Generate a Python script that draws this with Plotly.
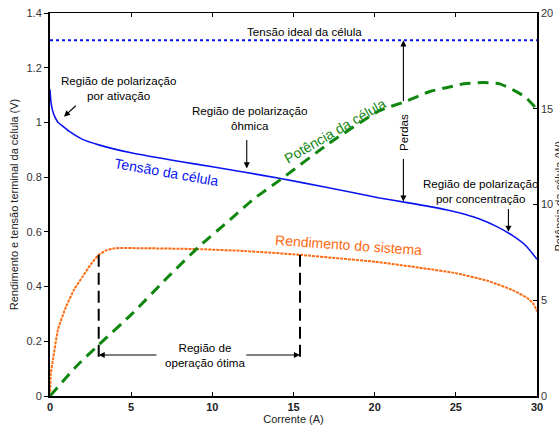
import numpy as np
import plotly.graph_objects as go

# ---------------- data ----------------
I_volt = [0, 0.05, 0.15, 0.3, 0.5, 0.8, 1.2, 2.0, 3.0, 5.0, 8.0, 10.0, 12.0, 14.2, 17.0,
          20.3, 22.0, 24.4, 25.5, 26.5, 27.5, 28.5, 29.3, 30.0]
V_cell = [1.12, 1.08, 1.045, 1.02, 1.0, 0.986, 0.967, 0.938, 0.918, 0.889, 0.857, 0.838,
          0.818, 0.795, 0.763, 0.724, 0.707, 0.681, 0.665, 0.646, 0.620, 0.586, 0.550, 0.50]

I_eff = [0, 0.05, 0.2, 0.5, 1.0, 1.5, 2.0, 2.5, 3.0, 3.5, 4.0, 6.0, 9.0, 12.0, 15.4, 18.0,
         20.0, 23.0, 25.0, 27.0, 28.5, 29.4, 29.8, 30.0]
eff = [0, 0.08, 0.14, 0.245, 0.328, 0.39, 0.436, 0.48, 0.516, 0.533, 0.540, 0.540, 0.537,
       0.530, 0.516, 0.502, 0.491, 0.467, 0.449, 0.42, 0.387, 0.358, 0.335, 0.309]

I_pow = [0, 1.6, 3.0, 5.1, 7.2, 9.2, 11.1, 12.5, 14.2, 17.2, 20.3, 21.8, 23.4, 24.4, 25.5,
         26.7, 27.7, 28.5, 29.3, 30.0]
P_cell = [0, 1.53, 2.67, 4.33, 6.16, 7.82, 9.21, 10.26, 11.3, 13.2, 14.9, 15.35, 15.9, 16.1,
          16.3, 16.37, 16.3, 16.0, 15.6, 14.97]

V_ideal = 1.3
I_range = [0, 30]
I_opt = [3.0, 15.4]          # optimal operation region
x_ticks = [0, 5, 10, 15, 20, 25, 30]
y_ticks = [0, 0.2, 0.4, 0.6, 0.8, 1.0, 1.2, 1.4]
y_ticktext = ["0", "0.2", "0.4", "0.6", "0.8", "1", "1.2", "1.4"]
y2_ticks = [0, 5, 10, 15, 20]

# ---------------- styling ----------------
FONT = "Liberation Sans, Arial, sans-serif"
BLUE = "#0a14f0"
ORANGE = "#ff6a10"
GREEN = "#0f870f"
ASIZE = 11.6

fig = go.Figure()

# ideal voltage (dotted)
fig.add_trace(go.Scatter(x=I_range, y=[V_ideal, V_ideal], mode="lines",
                         line=dict(color=BLUE, width=2, dash="dot"), showlegend=False))
# cell voltage
fig.add_trace(go.Scatter(x=I_volt, y=V_cell, mode="lines", line_shape="spline",
                         line=dict(color=BLUE, width=1.6, smoothing=0.5), showlegend=False))
# efficiency
fig.add_trace(go.Scatter(x=I_eff, y=eff, mode="lines", line_shape="spline",
                         line=dict(color=ORANGE, width=2, dash="3px,1px", smoothing=0.5),
                         showlegend=False))
# optimal region dashed verticals
eff_at_opt = np.interp(I_opt, I_eff, eff)
for xi, ei in zip(I_opt, eff_at_opt):
    fig.add_trace(go.Scatter(x=[xi, xi], y=[ei, 0.13], mode="lines",
                             line=dict(color="black", width=2, dash="12px,6px"),
                             showlegend=False))
# power on right axis
fig.add_trace(go.Scatter(x=I_pow, y=P_cell, mode="lines", line_shape="spline", yaxis="y2",
                         line=dict(color=GREEN, width=3, dash="11px,7px", smoothing=0.5),
                         showlegend=False))
# dummy for top axis
fig.add_trace(go.Scatter(x=I_range, y=[None, None], xaxis="x2", showlegend=False,
                         hoverinfo="skip"))

ann = []
def txt(x, y, s, size=ASIZE, color="black", angle=0, yref="y"):
    ann.append(dict(x=x, y=y, xref="x", yref=yref, text=s, showarrow=False,
                    font=dict(family=FONT, size=size, color=color), textangle=angle,
                    xanchor="center", yanchor="middle"))

def arrow(x0, y0, x1, y1):
    ann.append(dict(x=x1, y=y1, ax=x0, ay=y0, xref="x", yref="y", axref="x", ayref="y",
                    text="", showarrow=True, arrowhead=2, arrowsize=1.1, arrowwidth=1.1,
                    arrowcolor="black", standoff=0, startstandoff=0))

txt(15.7, 1.332, "Tensão ideal da célula")
txt(4.2, 1.125, "Região de polarização<br>por ativação")
arrow(1.68, 1.066, 0.86, 1.021)
txt(12.3, 1.018, "Região de polarização<br>ôhmica")
arrow(12.12, 0.941, 12.12, 0.832)
txt(26.5, 0.749, "Região de polarização<br>por concentração")
arrow(28.24, 0.689, 28.24, 0.60)
txt(7.15, 0.82, "Tensão da célula", size=14, color=BLUE, angle=10)
txt(17.56, 0.967, "Potência da célula", size=14, color=GREEN, angle=-30)
txt(18.36, 0.553, "Rendimento do sistema", size=14, color=ORANGE, angle=4)
txt(21.77, 0.963, "Perdas", angle=-90)
arrow(21.77, 1.073, 21.77, V_ideal)
arrow(21.77, 0.872, 21.77, 0.711)
txt(9.55, 0.150, "Região de<br>operação ótima")
arrow(6.65, 0.150, I_opt[0], 0.150)
arrow(12.0, 0.150, I_opt[1], 0.150)

# right axis title (partly outside the figure, as in the reference)
ann.append(dict(x=1.0, y=0.5, xref="paper", yref="paper", xshift=13, yshift=8,
                text="Potência da célula (W)", showarrow=False, textangle=-90,
                font=dict(family=FONT, size=11, color="#222"),
                xanchor="left", yanchor="middle"))

fig.update_layout(
    width=559, height=428, autosize=False,
    margin=dict(l=50, r=22, t=13, b=32, pad=0, autoexpand=False),
    paper_bgcolor="white", plot_bgcolor="white",
    font=dict(family=FONT, size=11, color="#222"),
    annotations=ann,
    xaxis=dict(range=I_range, tickvals=x_ticks, ticks="inside", ticklen=4, tickwidth=1,
               tickcolor="black", showline=True, linecolor="black", linewidth=2,
               showgrid=False, zeroline=False, automargin=False,
               tickfont=dict(family=FONT, size=11, color="#222", weight="bold"),
               title=dict(text="Corrente (A)", standoff=2,
                          font=dict(family=FONT, size=11, color="#222"))),
    xaxis2=dict(range=I_range, overlaying="x", side="top", anchor="y",
                tickvals=[5, 10, 15, 20, 25], ticks="inside", ticklen=4, tickcolor="black",
                showticklabels=False, showline=True, linecolor="black", linewidth=1,
                showgrid=False, zeroline=False, automargin=False),
    yaxis=dict(range=[0, 1.4], tickvals=y_ticks, ticktext=y_ticktext, ticks="outside",
               ticklen=4, tickcolor="black", showline=True, linecolor="black", linewidth=2,
               showgrid=False, zeroline=False, automargin=False,
               tickfont=dict(family=FONT, size=11, color="#333"),
               title=dict(text="Rendimento e tensão terminal da célula (V)", standoff=6,
                          font=dict(family=FONT, size=11, color="#222"))),
    yaxis2=dict(range=[0, 20], tickvals=y2_ticks, overlaying="y", side="right", anchor="x",
                ticks="inside", ticklen=4, tickcolor="black", showline=True,
                linecolor="black", linewidth=1.5, showgrid=False, zeroline=False,
                automargin=False,
                tickfont=dict(family=FONT, size=11, color="#333")),
)

fig.write_html("out.html")
